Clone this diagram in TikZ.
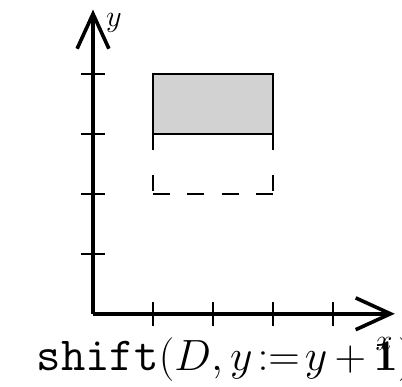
\documentclass[tikz,border=0pt]{standalone}
\usepackage{xcolor}
\usepackage{tikz}
\usetikzlibrary{arrows.meta,positioning,calc}

\begin{document}
\begin{tikzpicture}[
    axis/.style={line width=1.7pt, -{Straight Barb[length=0.58cm, width=0.53cm, line width=1.7pt]}},
    tick/.style={line width=0.8pt},
    box/.style={draw, line width=0.8pt},
]
\useasboundingbox (-1.55,-1.22) rectangle (5.15,5.23);
% axes
\coordinate (o) at (0,0);
\coordinate (xend) at (5.03,0);
\coordinate (yend) at (0,5.07);
\draw[axis] (o) -- (xend);
\draw[axis] (o) -- (yend);
\foreach \i in {1,...,4} {
    \draw[tick] (\i,-0.2) -- (\i,0.2);
    \draw[tick] (-0.2,\i) -- (0.2,\i);
}
\node[font=\Large, inner sep=0pt] (ylab) at (0.35,4.85) {$y$};
\node[font=\Large, inner sep=0pt] (xlab) at (4.85,-0.5) {$x$};
% shifted region and the original one
\draw[box, fill=gray!35] (1,3) rectangle (3,4);
\draw[line width=0.8pt, dash pattern=on 0.27cm off 0.42cm] (1,3) -- (1,2);
\draw[line width=0.8pt, dash pattern=on 0.27cm off 0.42cm] (3,3) -- (3,2);
\draw[line width=0.8pt, dash pattern=on 0.286cm off 0.286cm] (1,2) -- (3,2);
\node[anchor=base, inner sep=0pt, font=\fontsize{22.5}{27}\selectfont] (lab) at (2.2,-0.95)
    {\medmuskip=3mu\texttt{shift}$(D, y\mskip2mu{:=}\mskip2mu y + \mathbf{1})$};
\end{tikzpicture}
\end{document}
